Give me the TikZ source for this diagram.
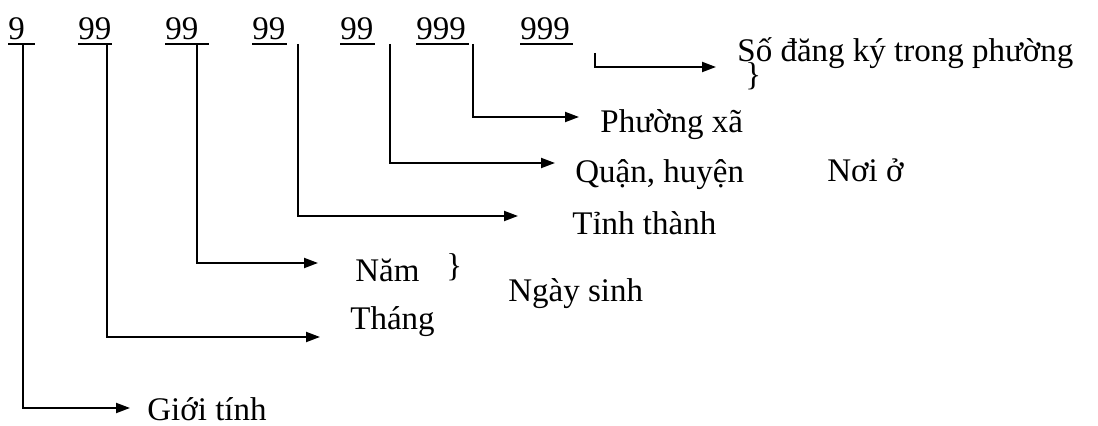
\documentclass[tikz,border=0pt]{standalone}
\usepackage{fontspec}
\setmainfont{Liberation Serif}
\usetikzlibrary{arrows.meta}

\tikzset{
    lbl/.style={anchor=base west, inner sep=0pt, font=\fontsize{16.5}{20}\selectfont},
    link/.style={line width=1pt, -{Triangle[length=7pt,width=5pt]}},
}

\begin{document}
\begin{tikzpicture}[x=0.5pt, y=-0.5pt]
    \useasboundingbox (0,0) rectangle (1098,426);

    % Code digits, each one underlined
    \foreach \n/\l/\r/\t in {1/8/35/9, 2/78/112/99, 3/165/209/99, 4/252/287/99,
                             5/340/375/99, 6/416/469/999, 7/520/573/999} {
        \node[lbl] (d\n) at (\l,40) {\t};
        \draw[line width=1pt] (\l,44) -- (\r,44);
    }

    % Labels for each part of the code
    \node[lbl] (gioitinh) at (147,421) {Giới tính};
    \node[lbl] (thang)    at (350,330) {Tháng};
    \node[lbl] (nam)      at (355,282) {Năm};
    \node[lbl] (tinh)     at (572,235) {Tỉnh thành};
    \node[lbl] (quan)     at (575,183) {Quận, huyện};
    \node[lbl] (phuong)   at (600,133) {Phường xã};
    \node[lbl] (sodk)     at (737,62)  {Số đăng ký trong phường};

    % Group labels
    \node[lbl] (ngaysinh) at (508,302) {Ngày sinh};
    \node[lbl] (noio)     at (827,182) {Nơi ở};
    \node[lbl] (brace1)   at (446,277) {\}};
    \node[lbl] (brace2)   at (745,86)  {\}};

    % Connectors: down from the digit, then right to the label
    \foreach \n/\x/\top/\y/\tip in {1/23/44/408/130, 2/107/44/337/320, 3/197/44/263/318,
                                   4/298/44/216/518, 5/390/44/163/555, 6/473/44/117/579,
                                   7/595/53/67/716} {
        \coordinate (s\n) at (\x,\top);
        \coordinate (e\n) at (\tip,\y);
        \draw[link] (s\n) |- (e\n);
    }
\end{tikzpicture}
\end{document}
